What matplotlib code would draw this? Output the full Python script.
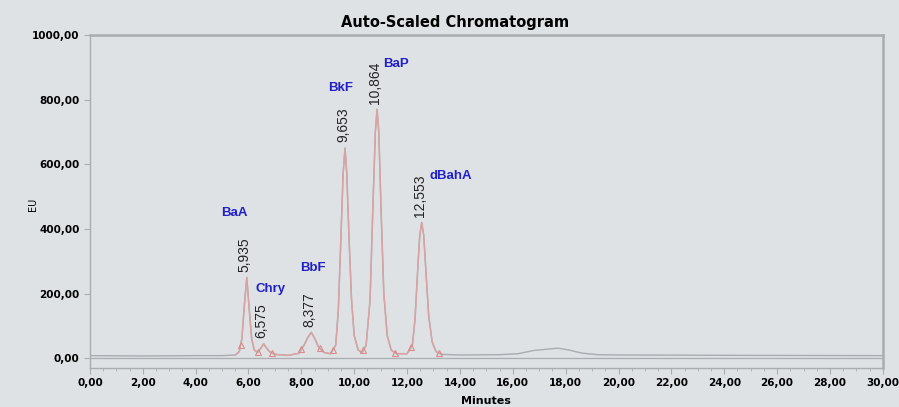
import numpy as np
import matplotlib.pyplot as plt
from matplotlib.ticker import FuncFormatter, MultipleLocator

# detector trace (minutes, EU)
time = [0.0, 2.0, 4.0, 5.0, 5.5, 5.65, 5.75, 5.85, 5.935, 6.02, 6.12, 6.22, 6.35,
        6.5, 6.575, 6.65, 6.8, 7.0, 7.5, 7.9, 8.1, 8.25, 8.377, 8.5, 8.65, 8.85,
        9.1, 9.3, 9.4, 9.5, 9.58, 9.653, 9.72, 9.8, 9.9, 10.0, 10.15, 10.3, 10.45,
        10.6, 10.7, 10.8, 10.864, 10.93, 11.02, 11.12, 11.25, 11.4, 11.6, 12.0,
        12.2, 12.3, 12.4, 12.48, 12.553, 12.63, 12.72, 12.82, 12.95, 13.1, 13.3,
        14.0, 15.5, 16.2, 16.8, 17.3, 17.7, 18.1, 18.6, 19.2, 20.0, 24.0, 30.0]
signal = [8, 7, 8, 8, 10, 20, 60, 170, 250, 160, 60, 25, 18,
          35, 45, 35, 20, 12, 9, 15, 40, 65, 80, 62, 35, 18,
          14, 40, 150, 380, 570, 650, 570, 380, 180, 70, 25, 18, 40,
          180, 450, 700, 770, 700, 450, 200, 70, 25, 14, 14,
          40, 120, 270, 380, 420, 380, 260, 130, 50, 20, 12,
          10, 11, 14, 24, 28, 31, 26, 16, 11, 10, 9, 8]

peak_names = ['BaA', 'Chry', 'BbF', 'BkF', 'BaP', 'dBahA']
peak_rt = [5.935, 6.575, 8.377, 9.653, 10.864, 12.553]
peak_height = [250, 45, 80, 650, 770, 420]
rt_labels = ['5,935', '6,575', '8,377', '9,653', '10,864', '12,553']
# integration marks at peak start / end
marks = [5.7, 6.35, 6.9, 8.0, 8.7, 9.2, 10.35, 11.55, 12.15, 13.2]

bg = '#dfe2e4'
pink = '#d9a3a3'
grey = '#a9acb0'

fig = plt.figure(figsize=(8.99, 4.07), dpi=100, facecolor=bg)
ax = fig.add_axes([0.100, 0.096, 0.882, 0.818], facecolor=bg)
plt.rcParams['font.family'] = ['Liberation Sans', 'DejaVu Sans']

t = np.array(time)
s = np.array(signal)
ax.axhline(0, color=grey, lw=0.9)
ax.plot(t, s, color=grey, lw=1.0)
inner = (t >= 5.4) & (t <= 13.4)
ax.plot(t[inner], s[inner], color=pink, lw=1.1)
ax.plot(marks, np.interp(marks, t, s), ls='none', marker='^', ms=5,
        mfc='none', mec='#d88c8c', mew=0.8)

# per-peak text offsets (minutes, EU)
name_dx = [-0.45, 0.25, 0.05, -0.15, 0.72, 1.1]
name_dy = [200, 170, 200, 185, 140, 145]
for i, name in enumerate(peak_names):
    ax.text(peak_rt[i] - 0.08, peak_height[i] + 18, rt_labels[i], rotation=90,
            ha='center', va='bottom', fontsize=10, color='#222222')
    ax.text(peak_rt[i] + name_dx[i], peak_height[i] + name_dy[i], name,
            ha='center', va='center', fontsize=9.5, fontweight='bold', color='#2020c8')

ax.set_xlim(0, 30)
ax.set_ylim(-30, 1000)
ax.set_xticks(np.arange(0, 31, 2))
ax.xaxis.set_minor_locator(MultipleLocator(0.5))
ax.set_yticks(np.arange(0, 1001, 200))
fmt = FuncFormatter(lambda v, p: f'{v:.2f}'.replace('.', ','))
ax.xaxis.set_major_formatter(fmt)
ax.yaxis.set_major_formatter(fmt)
ax.tick_params(axis='both', which='major', labelsize=7.5, length=4, color=grey, width=0.8)
ax.tick_params(axis='x', which='minor', length=2.5, color=grey, width=0.6)
for lab in ax.get_xticklabels() + ax.get_yticklabels():
    lab.set_fontweight('bold')
for sp in ax.spines.values():
    sp.set_color(grey)
    sp.set_linewidth(1.0)
ax.spines['top'].set_linewidth(1.8)
ax.spines['right'].set_linewidth(1.8)

ax.set_xlabel('Minutes', fontsize=8, fontweight='bold')
ax.xaxis.set_label_coords(0.5, -0.085)
ax.set_ylabel('EU', fontsize=7)
ax.yaxis.set_label_coords(-0.065, 0.49)
ax.set_title('Auto-Scaled Chromatogram', fontsize=10.5, fontweight='bold', pad=6, x=0.46)

fig.savefig('out.png', dpi=100, facecolor=bg)
